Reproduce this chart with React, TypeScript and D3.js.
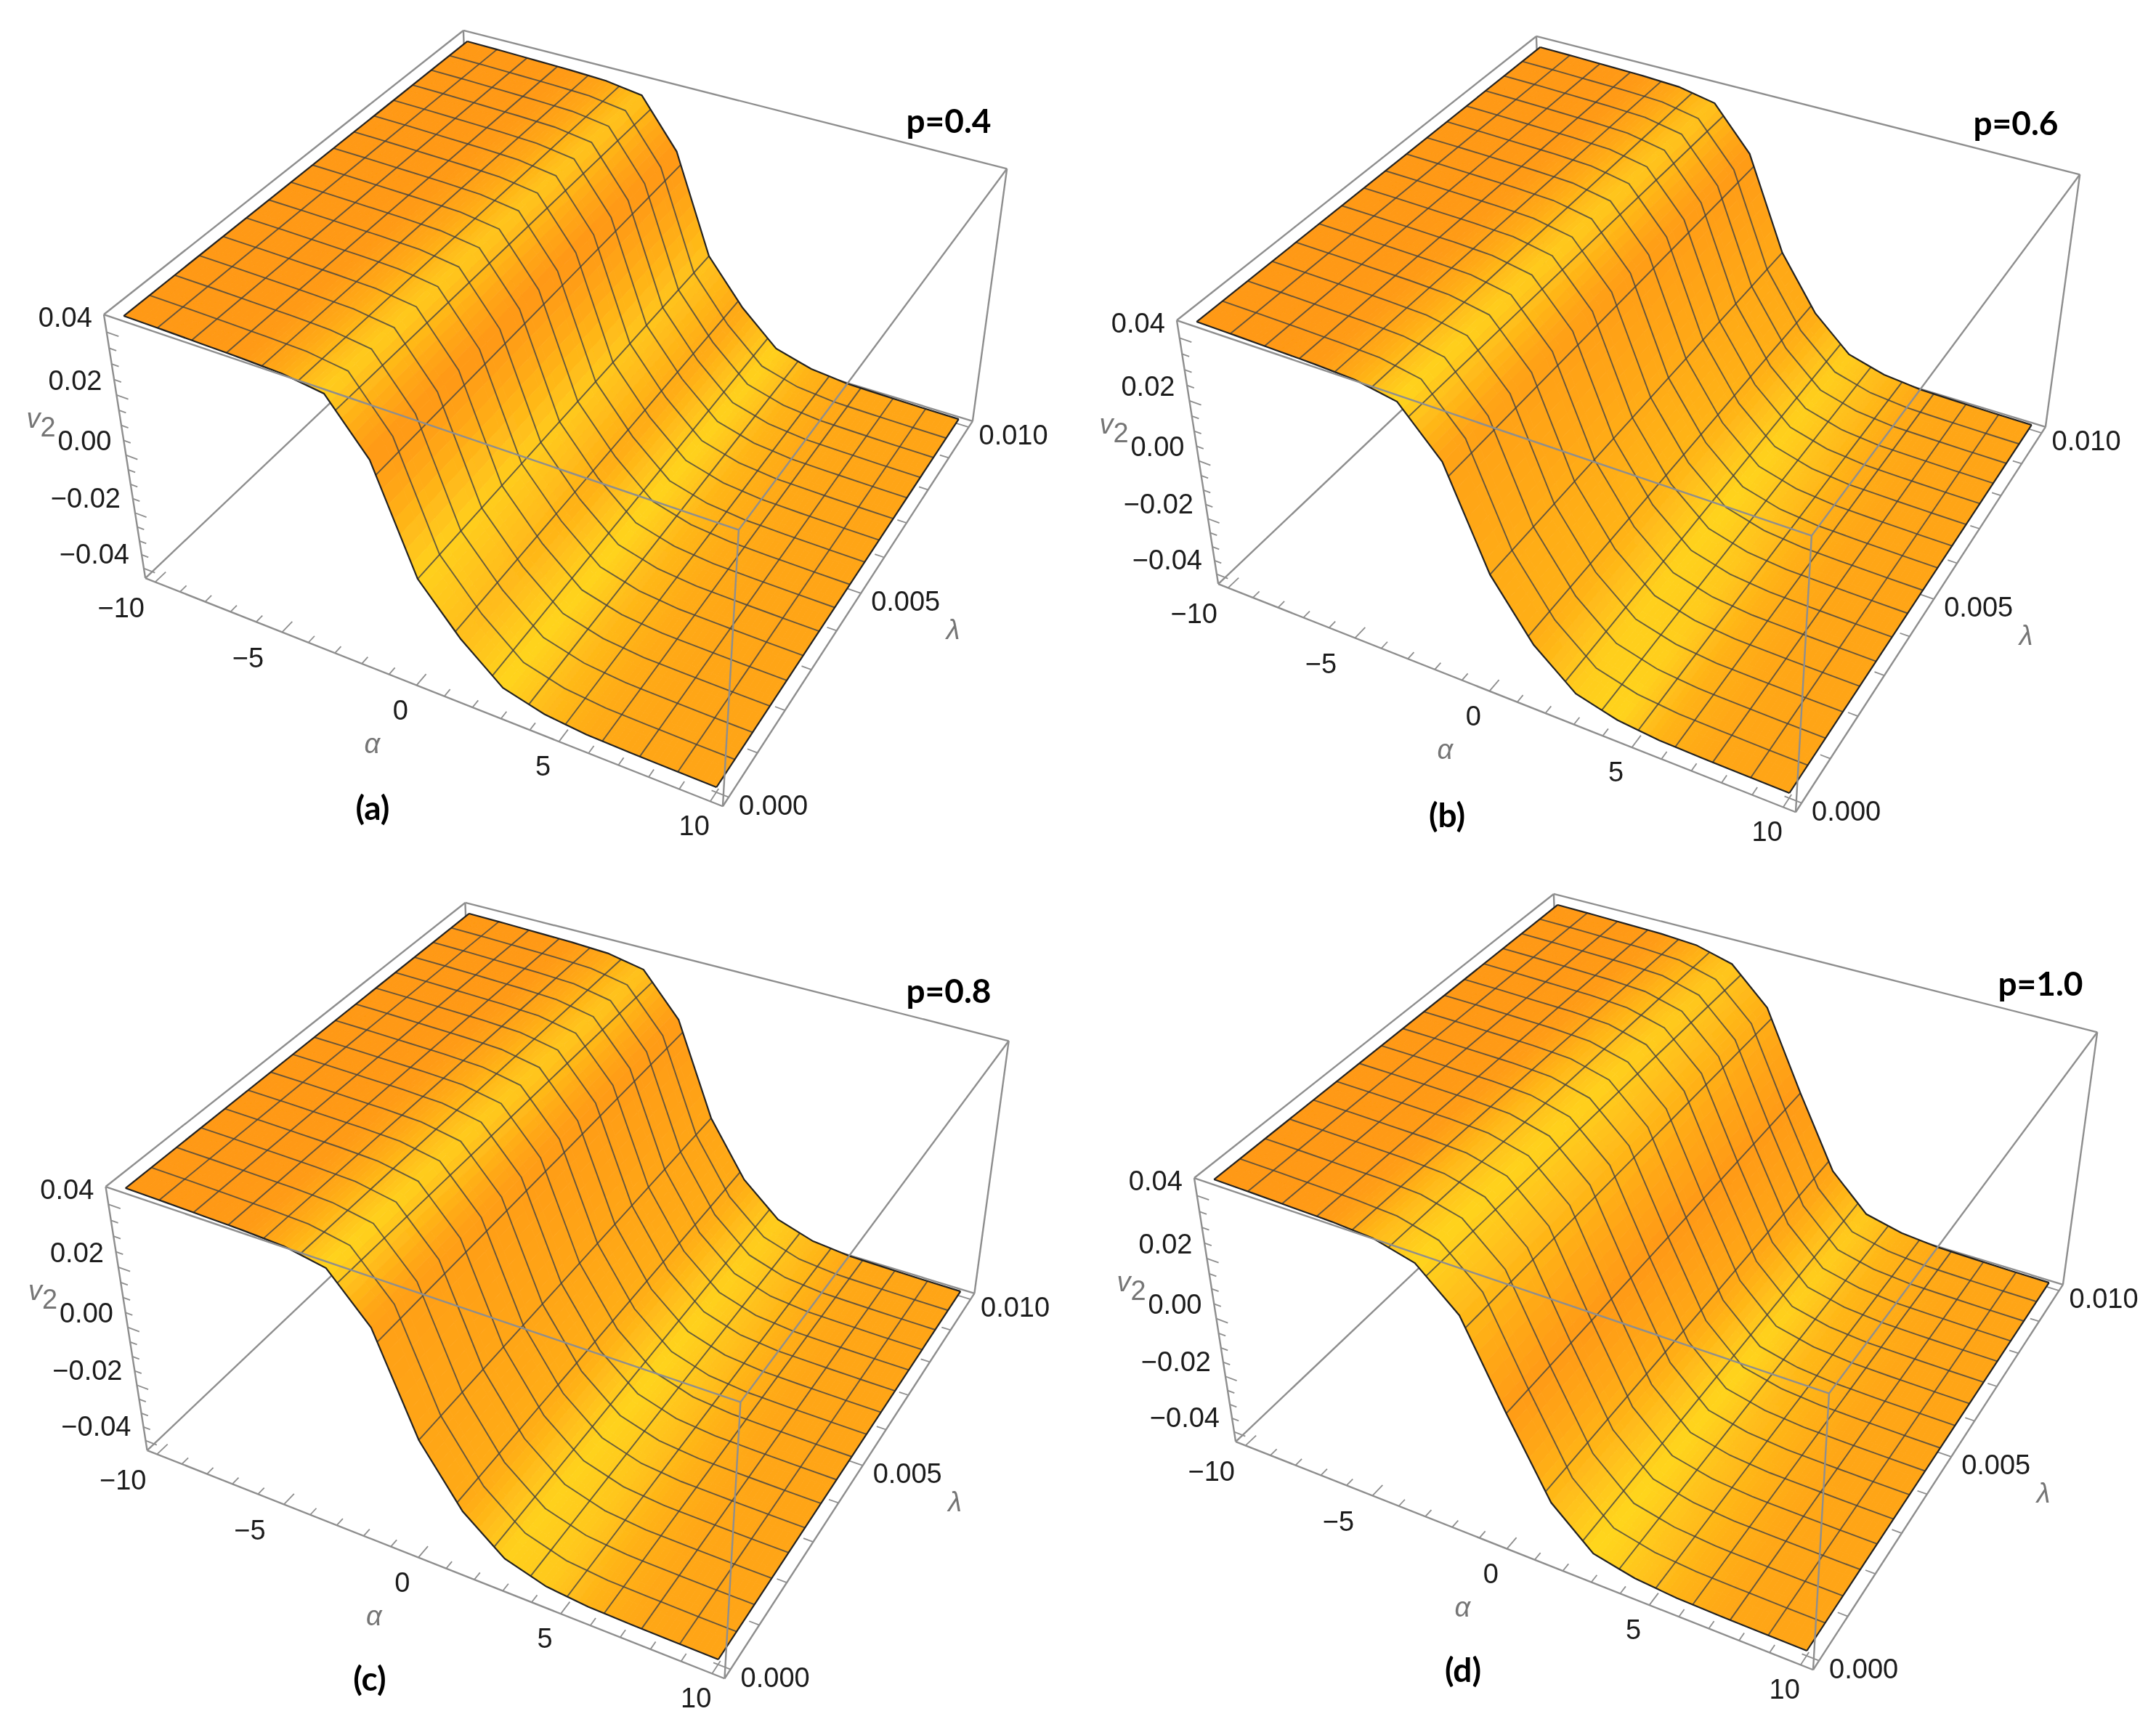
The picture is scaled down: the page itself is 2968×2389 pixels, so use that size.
import React, { useMemo } from "react";
import * as d3 from "d3";

// plot nodes along alpha (the surface creases sit on these)
const alphaNodes = [-10, -8.571, -7.143, -5.714, -4.286, -2.857, -1.429, 0, 1.429, 2.857, 4.286, 5.714, 7.143, 8.571, 10];
const v2A = [0.0441, 0.0439, 0.0436, 0.0433, 0.0428, 0.041, 0.0249, -0.0091, -0.0245, -0.0361, -0.0398, -0.0412, -0.0415, -0.0417, -0.0418];
const v2B = [0.0441, 0.0439, 0.0436, 0.0433, 0.0427, 0.0403, 0.0261, -0.0057, -0.0245, -0.0361, -0.0398, -0.0412, -0.0415, -0.0417, -0.0418];
const v2C = [0.0441, 0.0439, 0.0436, 0.0433, 0.0427, 0.0403, 0.0263, -0.0054, -0.0245, -0.0356, -0.0398, -0.0412, -0.0415, -0.0417, -0.0418];
const v2D = [0.0441, 0.0439, 0.0436, 0.0433, 0.0425, 0.0392, 0.0274, 0.0006, -0.0245, -0.0369, -0.04, -0.0412, -0.0415, -0.0417, -0.0418];

// surface brightness at the nodes, rows are lambda = 0, 0.005, 0.01
const shadeRowsA = [
  [0.06, 0.06, 0.06, 0.08, 0.4, 0.85, 0.05, 0.9, 0.65, 0.95, 0.6, 0.4, 0.33, 0.3, 0.3],
  [0.06, 0.06, 0.06, 0.08, 0.35, 0.75, 0.02, 0.8, 0.4, 0.95, 0.55, 0.4, 0.33, 0.3, 0.3],
  [0.06, 0.06, 0.06, 0.08, 0.3, 0.7, 0.03, 0.7, 0.35, 0.9, 0.5, 0.35, 0.33, 0.3, 0.3],
];
const shadeRowsB = [
  [0.06, 0.06, 0.06, 0.1, 0.45, 0.95, 0.25, 0.4, 0.45, 0.85, 0.95, 0.5, 0.35, 0.3, 0.3],
  [0.06, 0.06, 0.06, 0.1, 0.4, 0.8, 0.15, 0.4, 0.55, 0.95, 0.7, 0.45, 0.33, 0.3, 0.3],
  [0.06, 0.06, 0.06, 0.08, 0.35, 0.7, 0.1, 0.35, 0.4, 0.85, 0.6, 0.38, 0.33, 0.3, 0.3],
];
const shadeRowsC = [
  [0.06, 0.06, 0.06, 0.1, 0.45, 0.95, 0.2, 0.3, 0.4, 0.9, 0.8, 0.5, 0.35, 0.3, 0.3],
  [0.06, 0.06, 0.06, 0.1, 0.4, 0.8, 0.12, 0.3, 0.45, 0.95, 0.7, 0.45, 0.33, 0.3, 0.3],
  [0.06, 0.06, 0.06, 0.08, 0.35, 0.7, 0.1, 0.3, 0.4, 0.85, 0.6, 0.38, 0.33, 0.3, 0.3],
];
const shadeRowsD = [
  [0.06, 0.06, 0.07, 0.14, 0.6, 0.95, 0.6, 0.1, 0.6, 0.98, 0.75, 0.5, 0.35, 0.3, 0.3],
  [0.06, 0.06, 0.07, 0.12, 0.55, 0.9, 0.55, 0.05, 0.4, 0.95, 0.6, 0.45, 0.33, 0.3, 0.3],
  [0.06, 0.06, 0.06, 0.1, 0.4, 0.75, 0.45, 0.1, 0.3, 0.8, 0.5, 0.38, 0.33, 0.3, 0.3],
];

const zTicks = d3.range(-8, 9).map((d) => d * 0.005);
const zMajor = [-0.04, -0.02, 0, 0.02, 0.04];
const alphaTicks = d3.range(-10, 11);
const alphaMajor = [-10, -5, 0, 5, 10];
const lambdaTicks = d3.range(0, 11).map((d) => d * 0.001);
const lambdaMajor = [0, 0.005, 0.01];

// box corners of panel (a), unit cube coords then picture position
const cameraCorners = [
  [0, 0, 1, 143, 433],
  [0, 0, 0, 200, 796],
  [1, 0, 0, 995, 1110],
  [1, 0, 1, 1017, 730],
  [1, 1, 0, 1339, 580],
  [1, 1, 1, 1386, 232],
  [0, 1, 1, 638, 42],
];

const panels = [
  { id: "(a)", title: "p=0.4", dx: 0, dy: 0, values: v2A, shades: shadeRowsA, titleX: 1306, titleY: 165, capX: 513, capY: 1111 },
  { id: "(b)", title: "p=0.6", dx: 1477, dy: 8, values: v2B, shades: shadeRowsB, titleX: 2775, titleY: 168, capX: 1992, capY: 1121 },
  { id: "(c)", title: "p=0.8", dx: 2.5, dy: 1201, values: v2C, shades: shadeRowsC, titleX: 1306, titleY: 1363, capX: 509, capY: 2310 },
  { id: "(d)", title: "p=1.0", dx: 1501, dy: 1189, values: v2D, shades: shadeRowsD, titleX: 2809, titleY: 1353, capX: 2014, capY: 2298 },
];

const alphaScale = d3.scaleLinear().domain([-10.4, 10.4]).range([0, 1]);
const lambdaScale = d3.scaleLinear().domain([-0.0002, 0.0102]).range([0, 1]);
const zScale = d3.scaleLinear().domain([-0.0436, 0.0455]).range([0, 1]);
const orange = d3.scaleLinear<string>().domain([0, 0.35, 1]).range(["#ff9612", "#ffa817", "#ffd81e"]).clamp(true);

// fit a 3x4 camera to the corners, least squares
function fitCamera(pts: number[][]) {
  const rows: number[][] = [];
  const rhs: number[] = [];
  pts.forEach(([u, v, w, x0, y0]) => {
    const x = x0 / 1000;
    const y = y0 / 1000;
    rows.push([u, v, w, 1, 0, 0, 0, 0, -x * u, -x * v, -x * w]);
    rhs.push(x);
    rows.push([0, 0, 0, 0, u, v, w, 1, -y * u, -y * v, -y * w]);
    rhs.push(y);
  });
  const n = 11;
  const m = d3.range(n).map((i) => {
    const r = d3.range(n).map((j) => d3.sum(rows, (row) => row[i] * row[j]));
    r.push(d3.sum(rows, (row, k) => row[i] * rhs[k]));
    return r;
  });
  for (let c = 0; c < n; c++) {
    let best = c;
    for (let r = c + 1; r < n; r++) if (Math.abs(m[r][c]) > Math.abs(m[best][c])) best = r;
    [m[c], m[best]] = [m[best], m[c]];
    for (let r = 0; r < n; r++) {
      if (r === c) continue;
      const f = m[r][c] / m[c][c];
      for (let k = c; k <= n; k++) m[r][k] -= f * m[c][k];
    }
  }
  return m.map((r, i) => r[n] / r[i]);
}

const cam = fitCamera(cameraCorners);

function project(a: number, l: number, z: number, dx = 0, dy = 0): [number, number] {
  const u = alphaScale(a);
  const v = lambdaScale(l);
  const w = zScale(z);
  const d = cam[8] * u + cam[9] * v + cam[10] * w + 1;
  return [
    (1000 * (cam[0] * u + cam[1] * v + cam[2] * w + cam[3])) / d + dx,
    (1000 * (cam[4] * u + cam[5] * v + cam[6] * w + cam[7])) / d + dy,
  ];
}

const pathOf = d3.line<[number, number]>();
const meshAlpha = d3.range(1, 16).map((i) => -10 + (20 * i) / 16);
const meshLambda = d3.range(1, 16).map((i) => (0.01 * i) / 16);

function Panel({ p }: { p: (typeof panels)[number] }) {
  const { dx, dy } = p;
  const P = (a: number, l: number, z: number) => project(a, l, z, dx, dy);
  const height = d3.scaleLinear().domain(alphaNodes).range(p.values);
  const rowScales = p.shades.map((r) => d3.scaleLinear().domain(alphaNodes).range(r));

  const cells = useMemo(() => {
    const alphas: number[] = [];
    alphaNodes.slice(1).forEach((a, i) => {
      const a0 = alphaNodes[i];
      for (let k = 0; k < 8; k++) alphas.push(a0 + ((a - a0) * k) / 8);
    });
    alphas.push(10);
    const lambdas = d3.range(0, 25).map((i) => (0.01 * i) / 24);
    const out: { d: string; c: string }[] = [];
    lambdas.slice(1).reverse().forEach((l1) => {
      const l0 = l1 - 0.01 / 24;
      alphas.slice(1).forEach((a1, i) => {
        const a0 = alphas[i];
        const am = (a0 + a1) / 2;
        const lm = (l0 + l1) / 2;
        const poly: [number, number][] = [
          P(a0, l0, height(a0)),
          P(a1, l0, height(a1)),
          P(a1, l1, height(a1)),
          P(a0, l1, height(a0)),
        ];
        const t = lm / 0.005;
        const j = Math.min(1, Math.floor(t));
        const s = d3.interpolateNumber(rowScales[j](am), rowScales[j + 1](am))(t - j);
        out.push({ d: pathOf(poly) + "Z", c: orange(s) });
      });
    });
    return out;
  }, [p]);

  const alphaRun = d3.merge<number>([alphaNodes, meshAlpha]).sort(d3.ascending);
  const lambdaLine = (l: number) => pathOf(alphaRun.map((a) => P(a, l, height(a))));
  const alphaLine = (a: number) => pathOf([P(a, 0, height(a)), P(a, 0.01, height(a))]);

  const [aMin, aMax] = alphaScale.domain();
  const [lMin, lMax] = lambdaScale.domain();
  const [zMin, zMax] = zScale.domain();
  const edge = (q: [number, number, number], r: [number, number, number]) => pathOf([P(...q), P(...r)]);

  const backEdges = [
    edge([aMin, lMin, zMax], [aMin, lMin, zMin]),
    edge([aMin, lMin, zMin], [aMax, lMin, zMin]),
    edge([aMax, lMin, zMin], [aMax, lMax, zMin]),
    edge([aMax, lMax, zMin], [aMax, lMax, zMax]),
    edge([aMax, lMax, zMax], [aMin, lMax, zMax]),
    edge([aMin, lMax, zMax], [aMin, lMin, zMax]),
    edge([aMin, lMax, zMax], [aMin, lMax, zMin]),
    edge([aMin, lMax, zMin], [aMin, lMin, zMin]),
    edge([aMin, lMax, zMin], [aMax, lMax, zMin]),
  ];
  const frontEdges = [
    edge([aMin, lMin, zMax], [aMax, lMin, zMax]),
    edge([aMax, lMin, zMax], [aMax, lMax, zMax]),
    edge([aMax, lMin, zMax], [aMax, lMin, zMin]),
  ];

  const tickPaths = [
    ...zTicks.map((z) => edge([aMin, lMin, z], [aMin + (zMajor.some((m) => Math.abs(m - z) < 1e-6) ? 0.45 : 0.27), lMin, z])),
    ...alphaTicks.map((a) => edge([a, lMin, zMin], [a, lMin + (alphaMajor.includes(a) ? 0.00028 : 0.00017), zMin])),
    ...lambdaTicks.map((l) => edge([aMax, l, zMin], [aMax - (lambdaMajor.some((m) => Math.abs(m - l) < 1e-6) ? 0.55 : 0.33), l, zMin])),
  ];

  const fontTick = { fontFamily: "'Liberation Sans'", fontSize: 38, fill: "#1c1c1c" };
  const fontAxis = { fontFamily: "'Liberation Sans'", fontStyle: "italic", fontSize: 38, fill: "#757575" };
  const fontBold = { fontFamily: "Lato", fontWeight: 700, fontSize: 46, fill: "#000" };
  const [vx, vy] = P(aMin, lMin, 0.003);
  const [ax, ay] = P(0, lMin, zMin);
  const [lx, ly] = P(aMax, 0.005, zMin);

  return (
    <g>
      <g fill="none" stroke="#8e8e8e" strokeWidth={2.4}>
        {backEdges.map((d, i) => <path key={i} d={d!} />)}
        {tickPaths.map((d, i) => <path key={i} d={d!} strokeWidth={1.8} />)}
      </g>
      <g>
        {cells.map((c, i) => <path key={i} d={c.d} fill={c.c} stroke={c.c} strokeWidth={0.9} />)}
      </g>
      <g fill="none" stroke="#444" strokeOpacity={0.8} strokeWidth={1.9}>
        {meshLambda.map((l) => <path key={l} d={lambdaLine(l)!} />)}
        {meshAlpha.map((a) => <path key={a} d={alphaLine(a)!} />)}
      </g>
      <g fill="none" stroke="#222" strokeWidth={2.2}>
        <path d={lambdaLine(0)!} />
        <path d={lambdaLine(0.01)!} />
        <path d={alphaLine(-10)!} />
        <path d={alphaLine(10)!} />
      </g>
      <g fill="none" stroke="#8e8e8e" strokeWidth={2.4}>
        {frontEdges.map((d, i) => <path key={i} d={d!} />)}
      </g>
      {zMajor.map((z) => {
        const [x, y] = P(aMin, lMin, z);
        return <text key={z} x={x - 20} y={y - 20} textAnchor="end" dominantBaseline="central" {...fontTick}>{d3.format(".2f")(z).replace("-", "\u2212")}</text>;
      })}
      {alphaMajor.map((a) => {
        const [x, y] = P(a, lMin, zMin);
        return a < 0
          ? <text key={a} x={x - 47} y={y + 36} textAnchor="middle" dominantBaseline="central" {...fontTick}>{"\u2212" + -a}</text>
          : <text key={a} x={x - 22} y={y + 34} textAnchor="middle" dominantBaseline="central" {...fontTick}>{a}</text>;
      })}
      {lambdaMajor.map((l) => {
        const [x, y] = P(aMax, l, zMin);
        return <text key={l} x={x + 14} y={y + 11} dominantBaseline="central" {...fontTick}>{d3.format(".3f")(l)}</text>;
      })}
      <text x={vx - 135} y={vy - 38} dominantBaseline="central" {...fontAxis}>v<tspan dy={12} fontStyle="normal">2</tspan></text>
      <text x={ax - 61} y={ay + 80} textAnchor="middle" dominantBaseline="central" {...fontAxis}>α</text>
      <text x={lx + 127} y={ly + 50} textAnchor="middle" dominantBaseline="central" {...fontAxis}>λ</text>
      <text x={p.titleX} y={p.titleY} textAnchor="middle" dominantBaseline="central" {...fontBold}>{p.title}</text>
      <text x={p.capX} y={p.capY} textAnchor="middle" dominantBaseline="central" {...fontBold}>{p.id}</text>
    </g>
  );
}

export default function App() {
  return (
    <svg width={2968} height={2389} style={{ position: "absolute", left: 0, top: 0, background: "#fff" }}>
      <defs>
        <filter id="soft" x="0" y="0" width="100%" height="100%">
          <feGaussianBlur stdDeviation={0.7} />
        </filter>
      </defs>
      <g filter="url(#soft)">
        {panels.map((p) => <Panel key={p.id} p={p} />)}
      </g>
    </svg>
  );
}
